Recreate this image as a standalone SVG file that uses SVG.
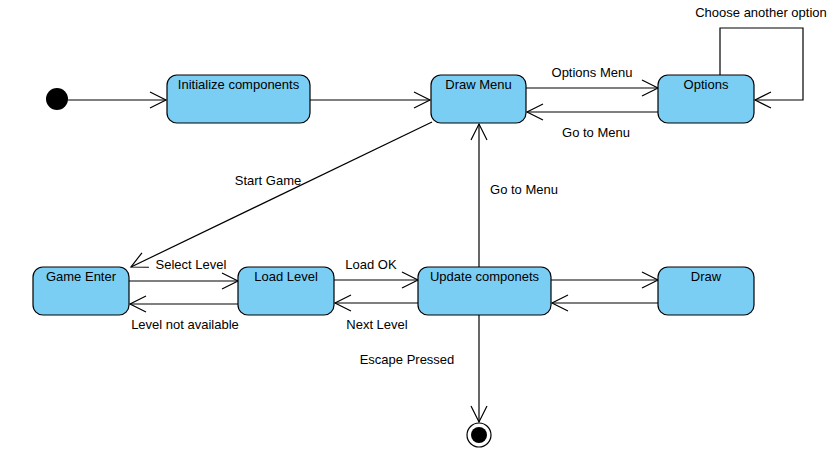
<svg xmlns="http://www.w3.org/2000/svg" width="833" height="466" viewBox="0 0 833 466">
<style>
.node rect{fill:#7acef4;stroke:#000;stroke-width:1.2}
text{font-family:"Liberation Sans",Arial,sans-serif;font-size:13px;fill:#000}
.c{text-anchor:middle}
.edge{fill:none;stroke:#000;stroke-width:1.2;marker-end:url(#arr)}
</style>
<defs>
<marker id="arr" markerUnits="userSpaceOnUse" markerWidth="20" markerHeight="20" viewBox="-18 -10 20 20" refX="0" refY="0" orient="auto">
<path d="M-16,-8 L0,0 L-16,8" fill="none" stroke="#000" stroke-width="1.2"/>
</marker>
</defs>
<rect width="833" height="466" fill="#fff"/>
<g id="connectors">
<path class="edge" d="M68,100 H166"/>
<path class="edge" d="M310,100 H430"/>
<path class="edge" d="M526,88 H658"/>
<path class="edge" d="M658,112 H527"/>
<path class="edge" d="M720,75 V28 H803 V100 H755"/>
<path class="edge" d="M432,122 L131,267"/>
<path class="edge" d="M129,281 H238"/>
<path class="edge" d="M238,304 H130"/>
<path class="edge" d="M334,280 H418"/>
<path class="edge" d="M418,303 H335"/>
<path class="edge" d="M551,280 H658"/>
<path class="edge" d="M658,303 H552"/>
<path class="edge" d="M479,267 V124"/>
<path class="edge" d="M479,315 V422"/>
<text class="c" x="592" y="77">Options Menu</text>
<text class="c" x="596" y="137">Go to Menu</text>
<text class="c" x="761" y="17">Choose another option</text>
<text class="c" x="268" y="185">Start Game</text>
<text class="c" x="524" y="194">Go to Menu</text>
<text class="c" x="191" y="269">Select Level</text>
<text class="c" x="185" y="329">Level not available</text>
<text class="c" x="371" y="269">Load OK</text>
<text class="c" x="377" y="329">Next Level</text>
<text class="c" x="407" y="364">Escape Pressed</text>
</g>
<g id="initial"><circle cx="57" cy="99" r="11" fill="#000"/></g>
<g id="final"><circle cx="479" cy="435" r="12" fill="#fff" stroke="#000" stroke-width="1.2"/><circle cx="479" cy="435" r="8" fill="#000"/></g>
<g id="init-components" class="node"><rect x="167" y="75" width="143" height="48" rx="10"/><text class="c" x="238.5" y="89">Initialize components</text></g>
<g id="draw-menu" class="node"><rect x="431" y="75" width="95" height="48" rx="10"/><text class="c" x="478.5" y="89">Draw Menu</text></g>
<g id="options" class="node"><rect x="658" y="75" width="96" height="48" rx="10"/><text class="c" x="706" y="89">Options</text></g>
<g id="game-enter" class="node"><rect x="33" y="267" width="96" height="48" rx="10"/><text class="c" x="81" y="281">Game Enter</text></g>
<g id="load-level" class="node"><rect x="238" y="267" width="96" height="48" rx="10"/><text class="c" x="286" y="281">Load Level</text></g>
<g id="update" class="node"><rect x="418" y="267" width="133" height="48" rx="10"/><text class="c" x="484.5" y="281">Update componets</text></g>
<g id="draw" class="node"><rect x="658" y="267" width="96" height="48" rx="10"/><text class="c" x="706" y="281">Draw</text></g>
</svg>
